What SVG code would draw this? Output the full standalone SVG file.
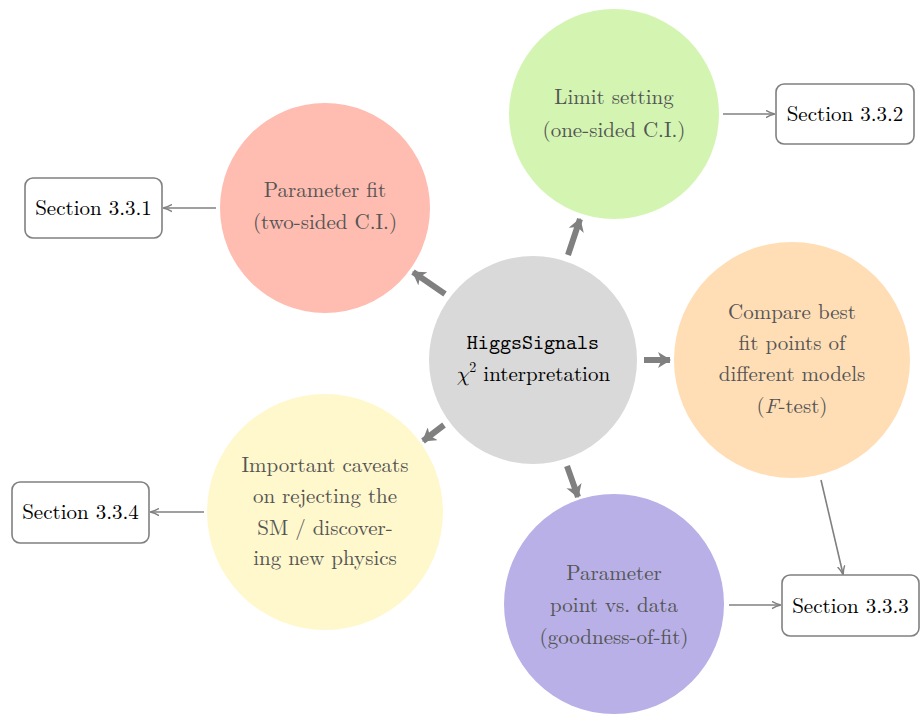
<svg xmlns="http://www.w3.org/2000/svg" width="922" height="714" viewBox="0 0 922 714">
<defs>
<style>
text{font-family:'Latin Modern Roman','CMU Serif','Liberation Serif','DejaVu Serif','Noto Serif','Times New Roman',serif}
.ct{font-size:21px;fill:#555555;text-anchor:middle}
.bt{font-size:21px;fill:#000;text-anchor:middle}
.mono{font-family:'Latin Modern Mono','CMU Typewriter Text','Liberation Mono','DejaVu Sans Mono',monospace;font-size:21px;fill:#000;text-anchor:middle}
.gr{font-family:'CMU Serif','Latin Modern Math','Latin Modern Roman','Liberation Serif',serif;font-style:italic}
.box{fill:#fff;stroke:#808080;stroke-width:1.6}
.thick{stroke:#808080;stroke-width:6;fill:none;marker-end:url(#ah)}
.thin{stroke:#808080;stroke-width:1.6;fill:none;marker-end:url(#at)}
</style>
<marker id="ah" markerUnits="userSpaceOnUse" viewBox="0 0 13 16" refX="12" refY="8" markerWidth="13" markerHeight="16" orient="auto">
<path d="M0,0 L13,8 L0,16 L3.5,8 z" fill="#808080"/>
</marker>
<marker id="at" markerUnits="userSpaceOnUse" viewBox="0 0 10 10" refX="9" refY="5" markerWidth="9" markerHeight="9" orient="auto">
<path d="M0,1 Q5,4 10,5 Q5,6 0,9" fill="none" stroke="#808080" stroke-width="1.6"/>
</marker>
</defs>
<rect width="922" height="714" fill="#fff"/>

<g id="center">
<circle cx="533" cy="360" r="104" fill="#d9d9d9"/>
<text class="mono" x="533" y="349">HiggsSignals</text>
<text class="bt" x="533" y="381"><tspan class="gr">χ</tspan><tspan dy="-9" font-size="14">2</tspan><tspan dy="9"> interpretation</tspan></text>
</g>

<g id="paramfit">
<circle cx="325" cy="208" r="105" fill="#ffbcb1"/>
<text class="ct" x="325" y="197">Parameter fit</text>
<text class="ct" x="325" y="229">(two-sided C.I.)</text>
</g>

<g id="limit">
<circle cx="614" cy="114" r="105" fill="#d3f5b1"/>
<text class="ct" x="614" y="104">Limit setting</text>
<text class="ct" x="614" y="137">(one-sided C.I.)</text>
</g>

<g id="compare">
<circle cx="792" cy="360" r="118" fill="#ffdeb6"/>
<text class="ct" x="792" y="319">Compare best</text>
<text class="ct" x="792" y="350">fit points of</text>
<text class="ct" x="792" y="381">different models</text>
<text class="ct" x="792" y="413">(<tspan font-style="italic">F</tspan>-test)</text>
</g>

<g id="gof">
<circle cx="614" cy="604" r="110" fill="#b8b0e6"/>
<text class="ct" x="614" y="580">Parameter</text>
<text class="ct" x="614" y="612">point vs. data</text>
<text class="ct" x="614" y="644">(goodness-of-fit)</text>
</g>

<g id="caveats">
<circle cx="325" cy="512" r="118" fill="#fff8cc"/>
<text class="ct" x="325" y="472">Important caveats</text>
<text class="ct" x="325" y="503">on rejecting the</text>
<text class="ct" x="325" y="535">SM / discover-</text>
<text class="ct" x="325" y="565">ing new physics</text>
</g>

<g id="s331">
<rect class="box" x="25" y="178" width="137" height="60" rx="8"/>
<text class="bt" x="93.5" y="215">Section 3.3.1</text>
</g>
<g id="s332">
<rect class="box" x="776" y="84" width="138" height="60" rx="8"/>
<text class="bt" x="845" y="121">Section 3.3.2</text>
</g>
<g id="s333">
<rect class="box" x="782" y="575" width="137" height="61" rx="8"/>
<text class="bt" x="850.5" y="613">Section 3.3.3</text>
</g>
<g id="s334">
<rect class="box" x="12" y="482" width="137" height="61" rx="8"/>
<text class="bt" x="80.5" y="519">Section 3.3.4</text>
</g>

<g id="connectors">
<line class="thick" x1="445" y1="294" x2="413" y2="272"/>
<line class="thick" x1="568" y1="255" x2="580" y2="219"/>
<line class="thick" x1="644" y1="360" x2="670" y2="360"/>
<line class="thick" x1="567" y1="466" x2="578" y2="497"/>
<line class="thick" x1="444" y1="425" x2="423" y2="441"/>
<line class="thin" x1="216" y1="208" x2="164" y2="208"/>
<line class="thin" x1="723" y1="114" x2="774" y2="114"/>
<line class="thin" x1="821" y1="480" x2="843" y2="574"/>
<line class="thin" x1="729" y1="605" x2="780" y2="605"/>
<line class="thin" x1="204" y1="512" x2="151" y2="512"/>
</g>
</svg>
